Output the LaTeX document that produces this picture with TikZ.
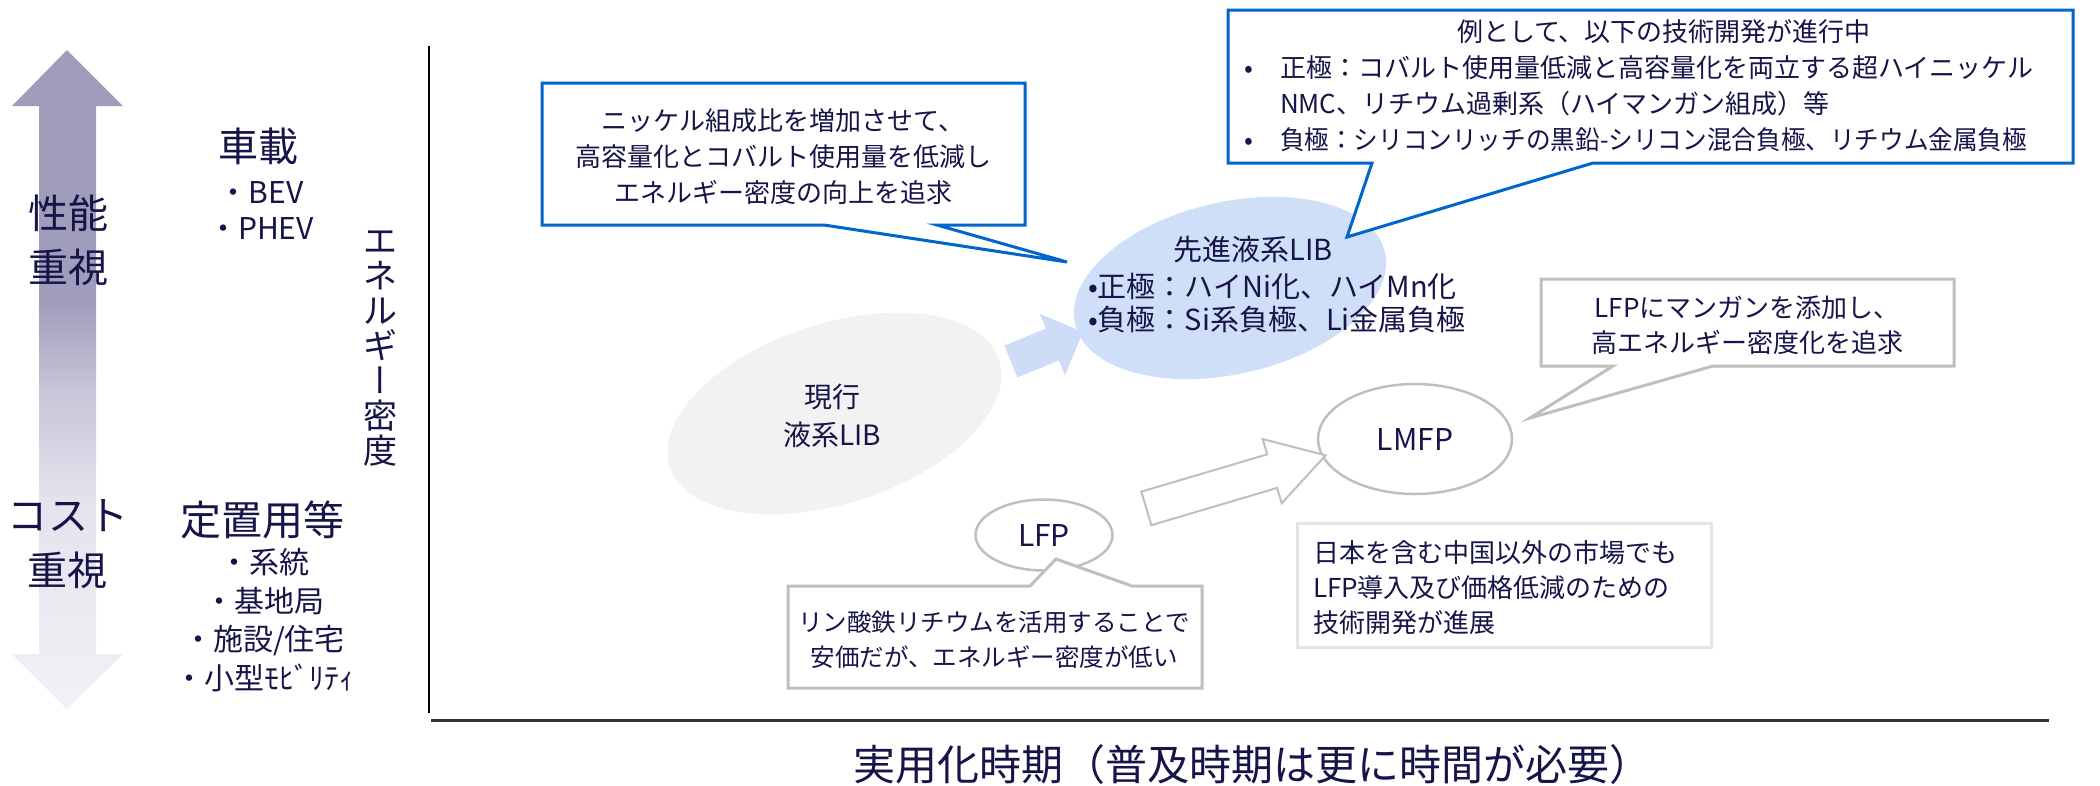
\documentclass[tikz,border=0pt]{standalone}
\usepackage{fontspec}
\setmainfont{Noto Sans CJK JP}
\newfontfamily\vertfont{Noto Sans CJK JP}[RawFeature=+vert]
\usetikzlibrary{shapes.geometric,shapes.arrows}
\definecolor{navy}{RGB}{22,20,72}
\definecolor{cblue}{RGB}{0,102,204}
\definecolor{cgray}{RGB}{191,191,191}
\definecolor{cgreen}{RGB}{222,231,225}
\definecolor{eblue}{RGB}{208,223,248}
\definecolor{ablue}{RGB}{205,221,248}
\definecolor{egray}{RGB}{242,242,242}
\definecolor{arrtop}{RGB}{160,156,187}
\definecolor{arrmid}{RGB}{200,198,216}
\definecolor{arrlow}{RGB}{228,226,236}
\definecolor{arrbot}{RGB}{242,241,246}
\pgfdeclareverticalshading{arrshade}{100bp}{color(0bp)=(arrbot); color(25bp)=(arrbot); color(41bp)=(arrlow); color(49bp)=(arrmid); color(56bp)=(arrtop); color(100bp)=(arrtop)}
\newcommand\myfs[2]{\fontsize{#1pt}{#2pt}\selectfont}
\begin{document}
\begin{tikzpicture}[x=1pt,y=-1pt,
  every node/.style={inner sep=0pt,outer sep=0pt,text=navy},
  lbl/.style={align=center},
  blueframe/.style={draw=cblue,line width=3pt,fill=white,line join=miter},
  grayframe/.style={draw=cgray,line width=3pt,fill=white,line join=miter},
  oval/.style={ellipse,draw=cgray,line width=2.5pt,fill=white,font=\myfs{30}{36}}]
\useasboundingbox (0,0) rectangle (2100,785);

% left double arrow
\shade[shading=arrshade]
  (67,50) -- (123,106) -- (96,106) -- (96,654) -- (123,654) -- (67,709)
  -- (12,654) -- (39,654) -- (39,106) -- (12,106) -- cycle;
\node[lbl,font=\myfs{40}{54}] (perf) at (68,240) {性能\\重視};
\node[lbl,font=\myfs{40}{55}] (cost) at (68,544) {コスト\\重視};

% categories
\node[font=\myfs{40}{48}] (veh) at (258,146) {車載};
\node[lbl,font=\myfs{30}{36}] (vehl) at (261,210) {・BEV\\・PHEV};
\node[font=\myfs{41}{48}] (stat) at (262,520) {定置用等};
\node[lbl,font=\myfs{30}{38.5}] (statl) at (264,620) {・系統\\・基地局\\・施設/住宅\\・小型ﾓﾋﾞﾘﾃｨ};
\node[lbl,font=\myfs{34}{35}] (edens) at (380,349) {エ\\ネ\\ル\\ギ\\{\vertfont ー}\\密\\度};

% axes
\coordinate (ytop) at (429,46);
\coordinate (ybot) at (429,713);
\draw[line width=1.5pt,black] (ytop) -- (ybot);
\coordinate (xleft) at (431,720);
\coordinate (xright) at (2049,720);
\draw[line width=3pt,black!80] (xleft) -- (xright);
\node[font=\myfs{42}{48}] (xlab) at (1252,765) {実用化時期（普及時期は更に時間が必要）};

% ellipses
\node[ellipse,fill=egray,minimum width=346pt,minimum height=180pt,rotate=18] (cur) at (834.5,413.5) {};
\node[lbl,font=\myfs{28}{38}] (curt) at (832,416) {現行\\液系LIB};
\node[ellipse,fill=eblue,minimum width=318pt,minimum height=172pt,rotate=13] (adv) at (1230,288) {};
\node[font=\myfs{29}{36}] (advt) at (1253,250) {先進液系LIB};
\node[anchor=west,align=left,font=\myfs{29}{33}] (advl) at (1088,303) {•正極：ハイNi化、ハイMn化\\•負極：Si系負極、Li金属負極};

\node[single arrow,fill=ablue,minimum height=78pt,inner xsep=0pt,inner ysep=17pt,
  single arrow head extend=16pt,single arrow tip angle=90,rotate=22.3] (barr) at (1039,350) {};

\node[oval,minimum width=137pt,minimum height=71pt] (lfp) at (1044,535) {LFP};
\node[oval,minimum width=194pt,minimum height=110pt] (lmfp) at (1415,439) {LMFP};

\node[single arrow,draw=cgray,line width=2pt,fill=white,minimum height=187pt,inner xsep=0pt,inner ysep=16.5pt,
  single arrow head extend=16pt,single arrow tip angle=62,rotate=16.5] (warr) at (1222,486) {};

% callout 1
\node[minimum width=483pt,minimum height=142pt] (c1) at (783.5,154) {};
\coordinate (t1) at (1067,262);
\draw[blueframe] (c1.north west) -- (c1.north east) -- (c1.south east) -- (937,225) -- (t1) -- (824,225) -- (c1.south west) -- cycle;
\node[lbl,font=\myfs{26}{36}] (c1t) at (783,157) {ニッケル組成比を増加させて、\\高容量化とコバルト使用量を低減し\\エネルギー密度の向上を追求};

% callout 2
\node[minimum width=845pt,minimum height=153pt] (c2) at (1650.5,86.5) {};
\coordinate (t2) at (1347,237);
\draw[blueframe] (c2.north west) -- (c2.north east) -- (c2.south east) -- (1593,163) -- (t2) -- (1372,163) -- (c2.south west) -- cycle;
\node[font=\myfs{26}{36}] (c2h) at (1664,32) {例として、以下の技術開発が進行中};
\node[anchor=west,align=left,font=\myfs{26}{36}] (c2l) at (1244,104) {\makebox[36pt][l]{•}正極：コバルト使用量低減と高容量化を両立する超ハイニッケル\\\hspace*{36pt}NMC、リチウム過剰系（ハイマンガン組成）等\\\makebox[36pt][l]{•}\scalebox{0.947}[1]{負極：シリコンリッチの黒鉛-シリコン混合負極、リチウム金属負極}};

% callout LFP
\node[minimum width=414pt,minimum height=102pt] (c3) at (995,637) {};
\coordinate (t3) at (1056,559);
\draw[grayframe] (c3.north west) -- (1030,586) -- (t3) -- (1132,586) -- (c3.north east) -- (c3.south east) -- (c3.south west) -- cycle;
\node[lbl,font=\myfs{24.5}{35}] (c3t) at (994,640) {リン酸鉄リチウムを活用することで\\安価だが、エネルギー密度が低い};

% callout LMFP
\node[minimum width=413pt,minimum height=87pt] (c4) at (1747.5,322.5) {};
\coordinate (t4) at (1530,418);
\draw[grayframe] (c4.north west) -- (c4.north east) -- (c4.south east) -- (1713,366) -- (t4) -- (1613,366) -- (c4.south west) -- cycle;
\node[lbl,font=\myfs{26}{35}] (c4t) at (1747,325) {LFPにマンガンを添加し、\\高エネルギー密度化を追求};

% note box
\node[draw=cgreen,line width=3pt,minimum width=414pt,minimum height=124pt] (note) at (1504,585) {};
\node[anchor=west,align=left,font=\myfs{26}{35}] (notet) at (1313,588) {日本を含む中国以外の市場でも\\LFP導入及び価格低減のための\\技術開発が進展};
\end{tikzpicture}
\end{document}
